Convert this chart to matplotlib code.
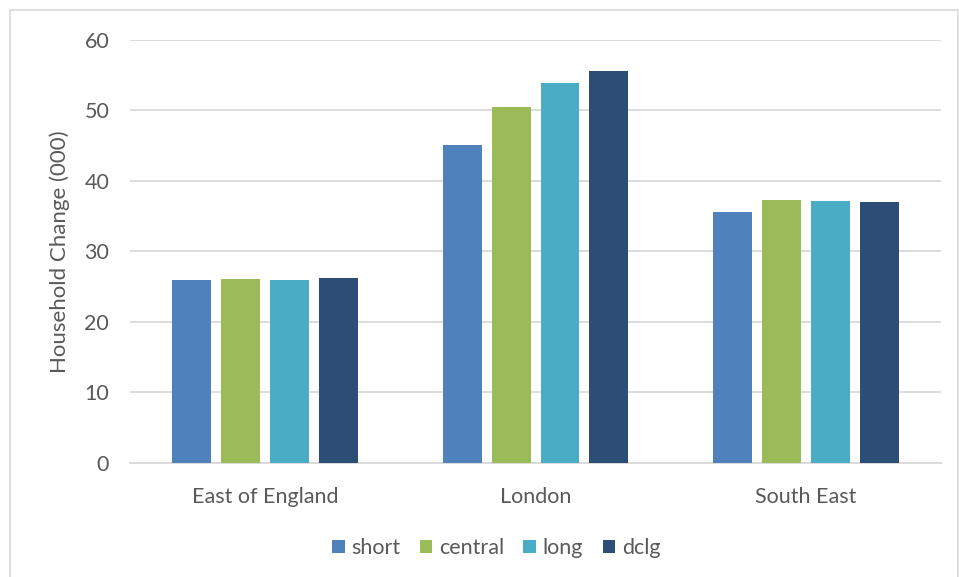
import numpy as np
import matplotlib.pyplot as plt
from matplotlib.patches import Rectangle

# Regiones y escenarios de proyección (miles de hogares)
regiones = ["East of England", "London", "South East"]
escenarios = ["short", "central", "long", "dclg"]
short = [26.0, 45.05, 35.6]
central = [26.05, 50.45, 37.25]
long_ = [26.0, 53.85, 37.2]
dclg = [26.25, 55.6, 37.0]

valores = [short, central, long_, dclg]
colores = ["#4F81BD", "#9BBB59", "#4BACC6", "#2C4D75"]
GRIS_TEXTO = "#595959"
FS = 15.5

plt.rcParams["font.family"] = ["Lato", "DejaVu Sans"]

fig = plt.figure(figsize=(9.59, 5.77), dpi=100)
ax = fig.add_axes([0.1356, 0.1976, 0.8456, 0.7331])

# Marco gris claro alrededor de todo el gráfico
fig.patches.append(Rectangle((10 / 959, -0.05), 948 / 959, 1.05 - 10 / 577,
                             transform=fig.transFigure, fill=False,
                             edgecolor="#D9D9D9", linewidth=1.2))

x = np.arange(len(regiones))
paso = 0.181
ancho = 0.144
for i, (nombre, vals, c) in enumerate(zip(escenarios, valores, colores)):
    ax.bar(x + (i - 1.5) * paso, vals, width=ancho, color=c, label=nombre,
           zorder=3)

ax.set_xlim(-0.5, 2.5)
ax.set_ylim(0, 60)
ax.set_yticks(range(0, 61, 10))
ax.set_xticks(x)
ax.set_xticklabels(regiones)
ax.tick_params(axis="both", length=0, colors=GRIS_TEXTO, labelsize=FS)
ax.tick_params(axis="x", pad=17)
ax.tick_params(axis="y", pad=15)

ax.grid(axis="y", color="#D9D9D9", linewidth=1.3, zorder=0)
for lado in ("top", "right", "left"):
    ax.spines[lado].set_visible(False)
ax.spines["bottom"].set_color("#D9D9D9")
ax.spines["bottom"].set_linewidth(1.3)

ax.set_ylabel("Household Change (000)", fontsize=16, color=GRIS_TEXTO,
              labelpad=10)

ax.legend(loc="center", bbox_to_anchor=(496 / 959, 1 - 548 / 577),
          bbox_transform=fig.transFigure, ncol=4, frameon=False,
          fontsize=FS, handlelength=0.6, handleheight=0.6,
          handletextpad=0.3, columnspacing=0.9, labelcolor=GRIS_TEXTO)

fig.savefig("out.png", dpi=100, facecolor="white")
